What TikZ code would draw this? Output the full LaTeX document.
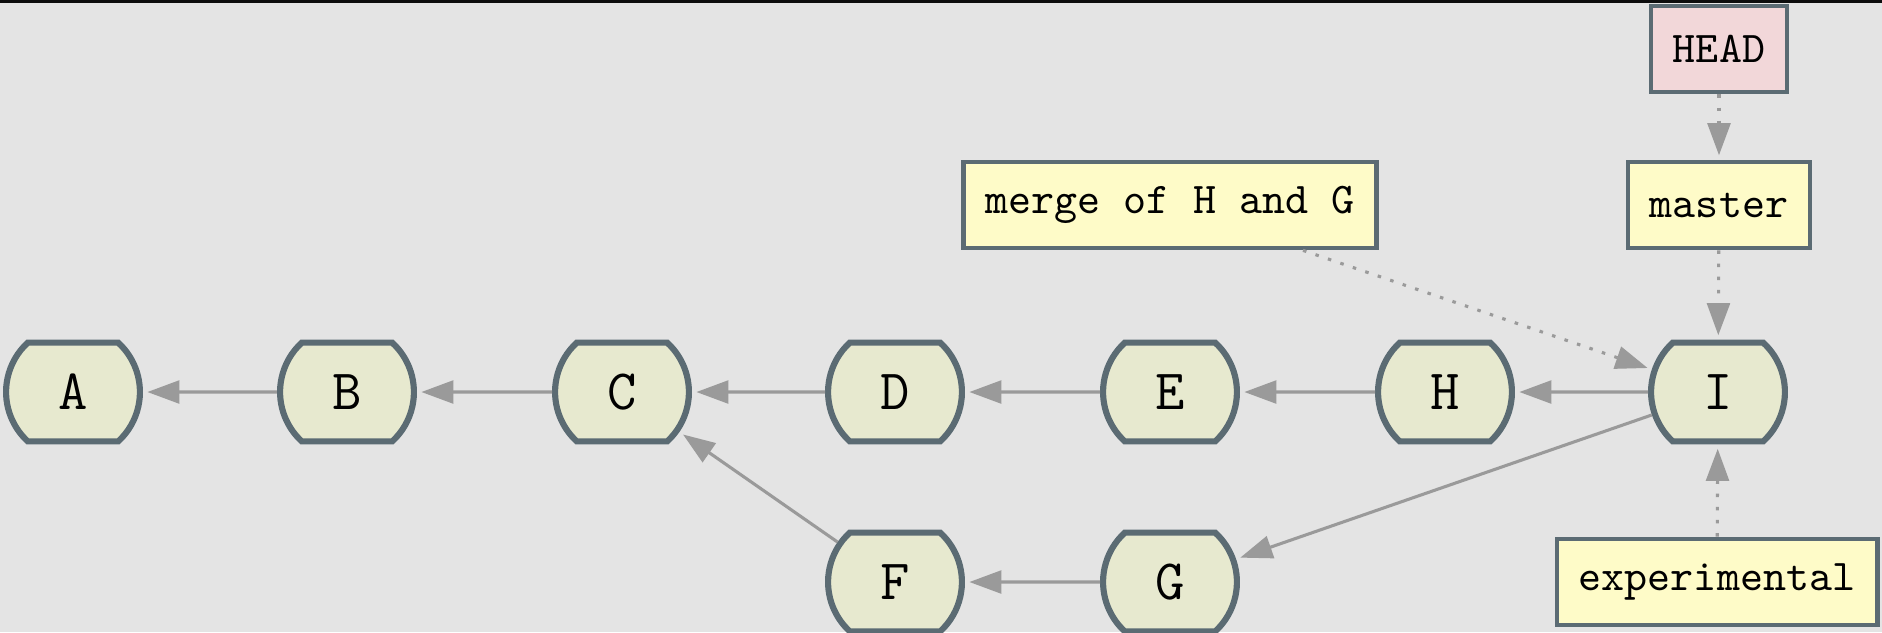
\documentclass[tikz,border=0pt]{standalone}
\usetikzlibrary{shapes.misc,arrows.meta}
\definecolor{bgc}{HTML}{E4E4E4}
\definecolor{bordc}{HTML}{5B6B73}
\definecolor{commitc}{HTML}{E7E9CF}
\definecolor{refc}{HTML}{FEFBC8}
\definecolor{headc}{HTML}{F2D7D9}
\definecolor{arrc}{HTML}{9A9A9A}
\begin{document}
\begin{tikzpicture}[x=0.228pt,y=-0.228pt,
  commit/.style={rounded rectangle, rounded rectangle arc length=95, draw=bordc, line width=1.4pt,
    fill=commitc, minimum width=28pt, minimum height=22.5pt, inner sep=0pt,
    font=\fontsize{13}{15}\selectfont\ttfamily},
  refbox/.style={rectangle, draw=bordc, line width=1.1pt, fill=refc, minimum height=19.6pt,
    inner xsep=5pt, inner ysep=0pt, font=\fontsize{10}{12}\selectfont\ttfamily},
  parent/.style={draw=arrc, line width=0.7pt, -{Triangle[length=7.3pt,width=5.2pt]}, shorten >=1pt},
  pointer/.style={parent, dash pattern=on 0.8pt off 2.2pt}
]
\fill[bgc] (0,0) rectangle (1882,632);
\fill[black!95] (0,0) rectangle (1882,3);
\useasboundingbox (0,0) rectangle (1882,632);

\node[commit] (A) at (73,392) {A};
\node[commit] (B) at (347,392) {B};
\node[commit] (C) at (622,392) {C};
\node[commit] (D) at (895,392) {D};
\node[commit] (E) at (1170,392) {E};
\node[commit] (H) at (1445,392) {H};
\node[commit] (I) at (1718,392) {I};
\node[commit] (F) at (895,582) {F};
\node[commit] (G) at (1170,582) {G};

\node[refbox, fill=headc] (head) at (1719,49) {HEAD};
\node[refbox] (master) at (1719,205) {master};
\node[refbox] (merge) at (1170,205) {merge of H and G};
\node[refbox] (exp) at (1717,582) {experimental};

\draw[parent] (B) -- (A);
\draw[parent] (C) -- (B);
\draw[parent] (D) -- (C);
\draw[parent] (E) -- (D);
\draw[parent] (H) -- (E);
\draw[parent] (I) -- (H);
\draw[parent] (F) -- (C);
\draw[parent] (G) -- (F);
\draw[parent] (I) -- (G);

\draw[pointer] (head) -- (master);
\draw[pointer] (master) -- (I);
\draw[pointer] (merge) -- (I);
\draw[pointer] (exp) -- (I);
\end{tikzpicture}
\end{document}
